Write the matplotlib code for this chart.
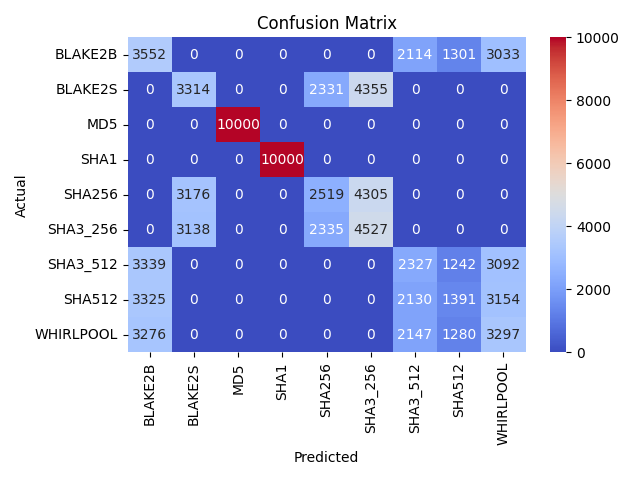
import matplotlib
matplotlib.use('Agg')
import matplotlib.pyplot as plt
import numpy as np
import seaborn as sns

labels = ['BLAKE2B', 'BLAKE2S', 'MD5', 'SHA1', 'SHA256', 'SHA3_256', 'SHA3_512', 'SHA512', 'WHIRLPOOL']

row_blake2b = [3552, 0, 0, 0, 0, 0, 2114, 1301, 3033]
row_blake2s = [0, 3314, 0, 0, 2331, 4355, 0, 0, 0]
row_md5 = [0, 0, 10000, 0, 0, 0, 0, 0, 0]
row_sha1 = [0, 0, 0, 10000, 0, 0, 0, 0, 0]
row_sha256 = [0, 3176, 0, 0, 2519, 4305, 0, 0, 0]
row_sha3_256 = [0, 3138, 0, 0, 2335, 4527, 0, 0, 0]
row_sha3_512 = [3339, 0, 0, 0, 0, 0, 2327, 1242, 3092]
row_sha512 = [3325, 0, 0, 0, 0, 0, 2130, 1391, 3154]
row_whirlpool = [3276, 0, 0, 0, 0, 0, 2147, 1280, 3297]

cm = np.array([row_blake2b, row_blake2s, row_md5, row_sha1, row_sha256,
               row_sha3_256, row_sha3_512, row_sha512, row_whirlpool])

plt.figure(figsize=(6.4, 4.8), dpi=100)
sns.heatmap(cm, annot=True, fmt='d', cmap='coolwarm',
            xticklabels=labels, yticklabels=labels)
plt.xlabel('Predicted')
plt.ylabel('Actual')
plt.title('Confusion Matrix')
plt.tight_layout()
plt.savefig('out.png', dpi=100)
